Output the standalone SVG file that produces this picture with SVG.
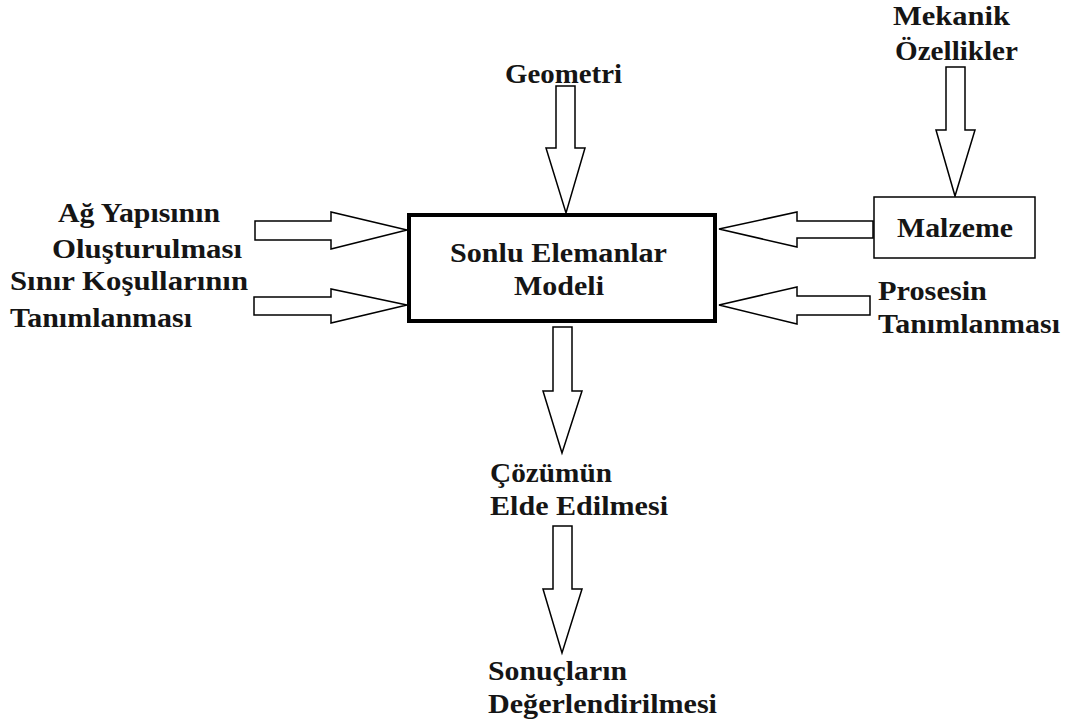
<svg xmlns="http://www.w3.org/2000/svg" width="1067" height="726" viewBox="0 0 1067 726">
<style>
text{font-family:"Liberation Serif","Times New Roman",serif;font-weight:bold;font-size:28px;fill:#151515}
.arr{fill:#fff;stroke:#000;stroke-width:1.5;stroke-linejoin:miter}
.box{fill:#fff;stroke:#000}
</style>
<rect width="1067" height="726" fill="#fff"/>
<g id="connectors">
<polygon class="arr" points="255,221 331,221 331,212 407,230 331,249 331,240 255,240"/>
<polygon class="arr" points="254,297 331,297 331,289 407,305 331,323 331,315 254,315"/>
<polygon class="arr" points="556,86 575,86 575,148 585,148 566,213 546,148 556,148"/>
<polygon class="arr" points="946,67 965,67 965,130 975,130 955,196 936,130 946,130"/>
<polygon class="arr" points="873,221 797,221 797,212 719,229 797,247 797,238 873,238"/>
<polygon class="arr" points="870,296 797,296 797,287 719,305 797,324 797,315 870,315"/>
<polygon class="arr" points="553,327 572,327 572,391 582,391 562,453 543,391 553,391"/>
<polygon class="arr" points="553,526 572,526 572,589 582,589 562,653 543,589 553,589"/>
</g>
<g id="model">
<rect class="box" x="409" y="215" width="306" height="106" stroke-width="4"/>
<text x="450" y="262" textLength="217" lengthAdjust="spacingAndGlyphs">Sonlu Elemanlar</text>
<text x="514" y="295" textLength="90" lengthAdjust="spacingAndGlyphs">Modeli</text>
</g>
<g id="malzeme">
<rect class="box" x="874" y="197" width="161" height="61" stroke-width="1.5"/>
<text x="897" y="237" textLength="116" lengthAdjust="spacingAndGlyphs">Malzeme</text>
</g>
<g id="geometri">
<text x="505" y="83" textLength="117" lengthAdjust="spacingAndGlyphs">Geometri</text>
</g>
<g id="mekanik">
<text x="893" y="25" textLength="117" lengthAdjust="spacingAndGlyphs">Mekanik</text>
<text x="895" y="60" textLength="123" lengthAdjust="spacingAndGlyphs">Özellikler</text>
</g>
<g id="ag">
<text x="58" y="222" textLength="162" lengthAdjust="spacingAndGlyphs">Ağ Yapısının</text>
<text x="52" y="258" textLength="190" lengthAdjust="spacingAndGlyphs">Oluşturulması</text>
</g>
<g id="sinir">
<text x="10" y="290" textLength="238" lengthAdjust="spacingAndGlyphs">Sınır Koşullarının</text>
<text x="10" y="327" textLength="182" lengthAdjust="spacingAndGlyphs">Tanımlanması</text>
</g>
<g id="proses">
<text x="878" y="300" textLength="109" lengthAdjust="spacingAndGlyphs">Prosesin</text>
<text x="878" y="333" textLength="182" lengthAdjust="spacingAndGlyphs">Tanımlanması</text>
</g>
<g id="cozum">
<text x="490" y="482" textLength="122" lengthAdjust="spacingAndGlyphs">Çözümün</text>
<text x="490" y="515" textLength="178" lengthAdjust="spacingAndGlyphs">Elde Edilmesi</text>
</g>
<g id="sonuc">
<text x="488" y="680" textLength="139" lengthAdjust="spacingAndGlyphs">Sonuçların</text>
<text x="488" y="713" textLength="229" lengthAdjust="spacingAndGlyphs">Değerlendirilmesi</text>
</g>
</svg>
